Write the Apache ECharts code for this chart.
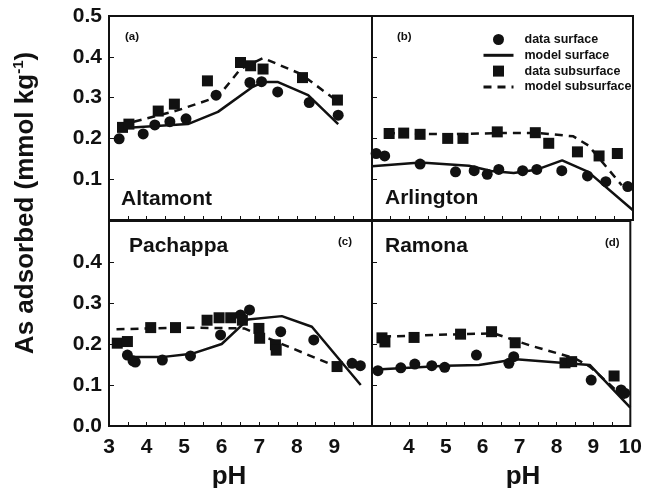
<!DOCTYPE html>
<html>
<head>
<meta charset="utf-8">
<script src="https://cdn.jsdelivr.net/npm/echarts@6/dist/echarts.min.js"></script>
<style>
  html, body { margin: 0; padding: 0; background: #fff; }
  #chart { width: 645px; height: 488px; }
</style>
</head>
<body>
<div id="chart"></div>
<script>
// pH / As adsorbed pairs
// (a) Altamont
var altamontDataSurface = [[3.27,0.199],[3.91,0.211],[4.22,0.233],[4.62,0.241],[5.05,0.248],[5.85,0.306],[6.75,0.337],[7.06,0.339],[7.49,0.314],[8.33,0.288],[9.1,0.257]];
var altamontModelSurface = [[3.3,0.225],[5.1,0.235],[5.9,0.265],[6.8,0.325],[7.1,0.338],[7.5,0.338],[8.3,0.306],[9.1,0.235]];
var altamontDataSubsurface = [[3.36,0.227],[3.53,0.235],[4.31,0.267],[4.74,0.284],[5.62,0.341],[6.5,0.386],[6.77,0.378],[7.1,0.37],[8.15,0.349],[9.08,0.294]];
var altamontModelSubsurface = [[3.3,0.232],[4.8,0.268],[5.9,0.302],[6.5,0.37],[7.1,0.397],[8.1,0.358],[9.1,0.29]];
// (b) Arlington
var arlingtonDataSurface = [[3.11,0.163],[3.34,0.157],[4.29,0.137],[5.24,0.118],[5.74,0.121],[6.09,0.112],[6.4,0.124],[7.04,0.121],[7.42,0.124],[8.09,0.121],[8.78,0.108],[9.27,0.094],[9.86,0.082]];
var arlingtonModelSurface = [[3.0,0.132],[4.3,0.141],[5.6,0.133],[6.2,0.12],[6.8,0.115],[7.4,0.123],[8.1,0.146],[8.8,0.118],[10.0,0.024]];
var arlingtonDataSubsurface = [[3.46,0.212],[3.85,0.213],[4.29,0.21],[5.03,0.2],[5.44,0.2],[6.36,0.216],[7.38,0.214],[7.74,0.188],[8.51,0.167],[9.09,0.157],[9.58,0.163]];
var arlingtonModelSubsurface = [[3.4,0.213],[5.0,0.21],[6.4,0.213],[7.5,0.213],[8.4,0.205],[8.8,0.183],[9.7,0.085]];
// (c) Pachappa
var pachappaDataSurface = [[3.49,0.173],[3.64,0.159],[3.7,0.156],[4.42,0.161],[5.17,0.171],[5.97,0.222],[6.5,0.271],[6.74,0.283],[7.57,0.23],[8.45,0.21],[9.47,0.153],[9.69,0.147]];
var pachappaModelSurface = [[3.5,0.168],[4.4,0.168],[5.2,0.176],[6.0,0.2],[6.7,0.26],[7.6,0.268],[8.4,0.242],[9.7,0.1]];
var pachappaDataSubsurface = [[3.22,0.202],[3.49,0.206],[4.11,0.24],[4.77,0.24],[5.61,0.258],[5.93,0.264],[6.24,0.264],[6.55,0.258],[6.99,0.238],[7.01,0.214],[7.43,0.198],[7.45,0.185],[9.07,0.145]];
var pachappaModelSubsurface = [[3.2,0.236],[5.0,0.24],[6.6,0.238],[9.05,0.145]];
// (d) Ramona
var ramonaDataSurface = [[3.16,0.135],[3.78,0.142],[4.16,0.151],[4.62,0.147],[4.97,0.143],[5.83,0.173],[6.71,0.153],[6.84,0.169],[8.94,0.112],[9.75,0.088],[9.85,0.08]];
var ramonaModelSurface = [[3.0,0.137],[5.0,0.147],[5.9,0.149],[6.9,0.163],[8.9,0.149],[10.0,0.045]];
var ramonaDataSubsurface = [[3.27,0.215],[3.35,0.205],[4.14,0.216],[5.4,0.224],[6.24,0.23],[6.88,0.203],[8.23,0.154],[8.41,0.157],[9.56,0.122]];
var ramonaModelSubsurface = [[3.3,0.218],[5.4,0.224],[6.3,0.226],[7.3,0.196],[8.5,0.165],[8.9,0.145],[9.95,0.06]];

var legendNames = ['data surface', 'model surface', 'data subsurface', 'model subsurface'];
var xTicks = [3, 10, 1];     // min, max, step
var yTicks = [0, 0.5, 0.1];

var panels = [
  [altamontDataSurface, altamontModelSurface, altamontDataSubsurface, altamontModelSubsurface],
  [arlingtonDataSurface, arlingtonModelSurface, arlingtonDataSubsurface, arlingtonModelSubsurface],
  [pachappaDataSurface, pachappaModelSurface, pachappaDataSubsurface, pachappaModelSubsurface],
  [ramonaDataSurface, ramonaModelSurface, ramonaDataSubsurface, ramonaModelSubsurface]
];

var FONT = 'Liberation Sans, Arial, Helvetica, sans-serif';
var INK = '#111';

var gridBoxes = [
  { left: 109, top: 16, width: 263, height: 204 },
  { left: 372, top: 16, width: 261, height: 204 },
  { left: 109, top: 221, width: 263, height: 205 },
  { left: 372, top: 221, width: 261, height: 205 }
];

var grids = [], xAxes = [], yAxes = [], series = [];
gridBoxes.forEach(function (b, i) {
  grids.push(Object.assign({ show: true, borderColor: INK, borderWidth: 2, backgroundColor: 'transparent' }, b));
  xAxes.push({
    type: 'value', gridIndex: i, min: xTicks[0], max: xTicks[1], interval: xTicks[2],
    axisLine: { show: false },
    axisTick: { inside: true, length: 4, lineStyle: { color: INK, width: 1 } },
    minorTick: { show: true, splitNumber: 2, length: 4, lineStyle: { color: INK, width: 1 } },
    splitLine: { show: false },
    axisLabel: {
      show: i >= 2, margin: 11, color: INK, fontSize: 21, fontWeight: 'bold', fontFamily: FONT,
      showMinLabel: i !== 3, showMaxLabel: i !== 2
    }
  });
  yAxes.push({
    type: 'value', gridIndex: i, min: yTicks[0], max: yTicks[1], interval: yTicks[2],
    axisLine: { show: false },
    axisTick: { inside: true, length: 5, lineStyle: { color: INK, width: 1 } },
    splitLine: { show: false },
    axisLabel: {
      show: i === 0 || i === 2, margin: 7, color: INK, fontSize: 21, fontWeight: 'bold', fontFamily: FONT,
      showMinLabel: i !== 0, showMaxLabel: i !== 2,
      formatter: function (v) { return v.toFixed(1); }
    }
  });

  var p = panels[i];
  series.push({
    name: legendNames[1], type: 'line', xAxisIndex: i, yAxisIndex: i, data: p[1],
    symbol: 'none', color: INK, lineStyle: { color: INK, width: 2.5 }, z: 2
  });
  series.push({
    name: legendNames[3], type: 'line', xAxisIndex: i, yAxisIndex: i, data: p[3],
    symbol: 'none', color: INK, lineStyle: { color: INK, width: 2.5, type: [8, 6] }, z: 2
  });
  series.push({
    name: legendNames[0], type: 'scatter', xAxisIndex: i, yAxisIndex: i, data: p[0],
    symbol: 'circle', symbolSize: 11, itemStyle: { color: INK, opacity: 1 }, z: 3
  });
  series.push({
    name: legendNames[2], type: 'scatter', xAxisIndex: i, yAxisIndex: i, data: p[2],
    symbol: 'rect', symbolSize: 11, itemStyle: { color: INK, opacity: 1 }, z: 3
  });
});

function label(text, x, y, size, align) {
  return {
    type: 'text', x: x, y: y, z: 10,
    style: { text: text, fill: INK, font: 'bold ' + size + 'px ' + FONT, align: align || 'left', verticalAlign: 'middle' }
  };
}

// line entries in the legend: hide the marker that line series draw by default
var noMarker = { color: 'transparent', borderWidth: 0, opacity: 0 };

var chart = echarts.init(document.getElementById('chart'), null, { renderer: 'canvas' });
chart.setOption({
  backgroundColor: '#fff',
  animation: false,
  grid: grids,
  xAxis: xAxes,
  yAxis: yAxes,
  series: series,
  legend: {
    orient: 'vertical', left: 482, top: 33, padding: 0,
    itemWidth: 30, itemHeight: 11, itemGap: 2.8,
    selectedMode: false,
    lineStyle: { width: 3 },
    textStyle: { color: INK, fontSize: 12.5, fontWeight: 'bold', fontFamily: FONT, lineHeight: 11, padding: [0, 0, 0, 6] },
    data: [
      { name: legendNames[0], icon: 'circle' },
      { name: legendNames[1], itemStyle: noMarker },
      { name: legendNames[2], icon: 'path://M0,0H10V10H0Z' },
      { name: legendNames[3], itemStyle: noMarker }
    ]
  },
  graphic: [
    label('Altamont', 121, 199, 21),
    label('Arlington', 385, 198, 21),
    label('Pachappa', 129, 246, 21),
    label('Ramona', 385, 246, 21),
    label('(a)', 125, 37, 11.5),
    label('(b)', 397, 37, 11.5),
    label('(c)', 338, 242, 11.5),
    label('(d)', 605, 243, 11.5),
    label('pH', 229, 477, 26, 'center'),
    label('pH', 523, 477, 26, 'center'),
    {
      type: 'text', x: 26, y: 203, rotation: Math.PI / 2, z: 10,
      style: {
        text: 'As adsorbed (mmol kg{sup|-1})',
        fill: INK, font: 'bold 26px ' + FONT, align: 'center', verticalAlign: 'middle',
        lineHeight: 30,
        rich: { sup: { fontSize: 15, fontWeight: 'bold', fontFamily: FONT, fill: INK, verticalAlign: 'top', lineHeight: 30 } }
      }
    }
  ]
});
</script>
</body>
</html>
